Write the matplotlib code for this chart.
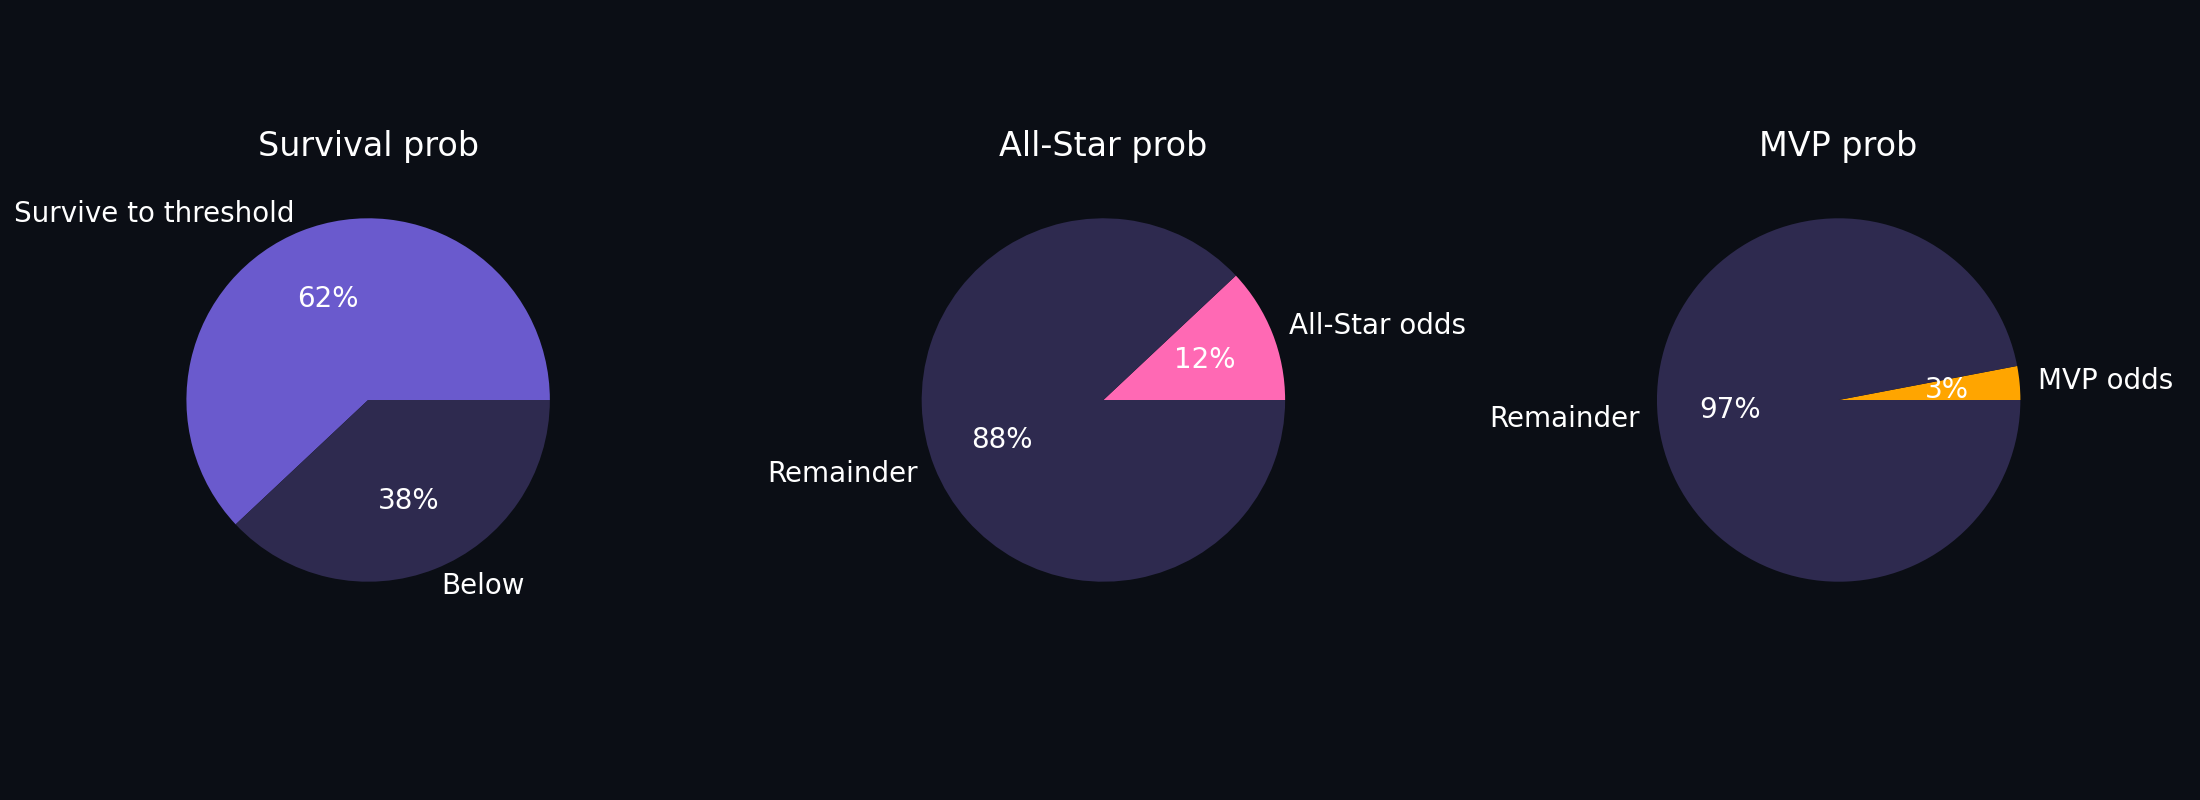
import matplotlib
matplotlib.use("Agg")
import matplotlib.pyplot as plt

bg = "#0b0e15"

titles = ["Survival prob", "All-Star prob", "MVP prob"]
shares = [[0.62, 0.38], [0.12, 0.88], [0.03, 0.97]]
labels = [["Survive to threshold", "Below"],
          ["All-Star odds", "Remainder"],
          ["MVP odds", "Remainder"]]
colors = [["#6a5acd", "#2e2a4f"],
          ["#ff69b4", "#2e2a4f"],
          ["#ffa500", "#2e2a4f"]]

fig, axes = plt.subplots(1, 3, figsize=(11, 4), dpi=200)
fig.patch.set_facecolor(bg)

for ax, title, vals, labs, cols in zip(axes, titles, shares, labels, colors):
    ax.set_facecolor(bg)
    ax.pie(vals, labels=labs, colors=cols, autopct="%.0f%%",
           textprops={"color": "white"})
    ax.set_title(title, color="white")

plt.tight_layout()
plt.savefig("out.png", facecolor=bg)
